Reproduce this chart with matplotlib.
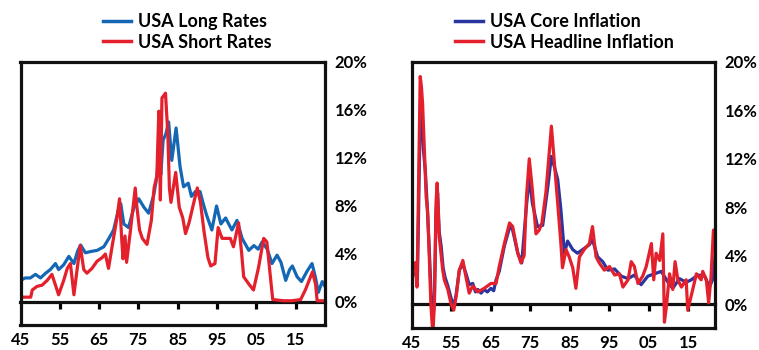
import numpy as np
import matplotlib
matplotlib.use('Agg')
from matplotlib import pyplot as plt
from matplotlib.ticker import FuncFormatter


#(0) Data (year, percent)
long_rates = [(1945.0, 1.8), (1946.2, 2.0), (1947.5, 2.0), (1948.8, 2.3), (1950.1, 2.0), (1951.4, 2.4),
              (1952.6, 2.7), (1953.9, 3.2), (1954.7, 2.7), (1956.0, 3.1), (1957.3, 3.8), (1958.6, 3.2),
              (1959.5, 4.2), (1960.3, 4.75), (1961.5, 4.1), (1962.8, 4.2), (1964.5, 4.3), (1966.2, 4.6),
              (1967.5, 5.3), (1968.7, 6.0), (1970.0, 7.8), (1970.5, 8.2), (1971.3, 6.5), (1972.5, 6.2),
              (1973.8, 7.8), (1975.1, 8.6), (1976.4, 7.9), (1977.6, 7.4), (1978.9, 8.9), (1979.7, 10.4),
              (1980.3, 12.5), (1980.7, 10.6), (1981.3, 13.5), (1982.0, 14.0), (1982.7, 15.0), (1983.5, 11.8),
              (1984.6, 14.5), (1985.6, 11.3), (1986.5, 9.6), (1987.7, 9.9), (1988.5, 8.8), (1989.5, 9.2),
              (1990.7, 9.2), (1991.5, 8.2), (1992.4, 7.2), (1993.7, 6.0), (1994.9, 8.0), (1996.0, 6.5),
              (1997.2, 7.0), (1998.8, 6.0), (2000.1, 6.8), (2001.4, 5.3), (2003.1, 4.3), (2004.4, 4.7),
              (2005.5, 4.4), (2006.5, 5.0), (2007.8, 4.4), (2009.0, 3.2), (2010.3, 3.9), (2011.3, 3.3),
              (2012.5, 1.8), (2013.5, 2.7), (2014.2, 3.0), (2015.4, 2.1), (2016.5, 1.7), (2018.0, 2.6),
              (2019.2, 3.2), (2020.1, 2.0), (2020.8, 0.8), (2021.8, 1.7), (2022.5, 1.3)]

short_rates = [(1945.0, 0.4), (1947.6, 0.4), (1948.0, 1.0), (1949.2, 1.3), (1950.5, 1.4), (1951.8, 1.8),
               (1953.0, 2.3), (1953.5, 1.8), (1954.7, 0.6), (1956.0, 1.8), (1956.9, 2.8), (1957.7, 3.2),
               (1958.6, 0.6), (1959.4, 2.7), (1960.2, 4.7), (1961.1, 2.7), (1961.9, 2.4), (1963.2, 2.8),
               (1964.5, 3.4), (1965.8, 3.7), (1966.6, 4.0), (1967.4, 2.8), (1968.3, 4.6), (1969.6, 7.1),
               (1970.2, 8.6), (1970.8, 5.0), (1971.1, 3.6), (1971.6, 5.5), (1972.0, 3.3), (1973.0, 6.0),
               (1974.2, 9.5), (1974.6, 8.0), (1975.3, 6.0), (1976.0, 5.3), (1977.2, 4.8), (1978.3, 6.8),
               (1979.0, 9.5), (1979.7, 10.5), (1980.2, 15.9), (1980.6, 8.5), (1981.0, 17.0), (1981.9, 17.4),
               (1982.5, 14.0), (1982.9, 9.5), (1983.3, 8.3), (1984.5, 10.8), (1985.4, 7.9), (1986.3, 7.0),
               (1987.0, 5.7), (1987.9, 6.6), (1988.9, 8.0), (1990.0, 9.5), (1990.8, 8.3), (1991.7, 5.9),
               (1992.7, 3.7), (1993.4, 3.0), (1994.5, 3.2), (1995.3, 6.2), (1996.3, 5.3), (1998.4, 5.3),
               (1999.2, 4.6), (2000.5, 6.6), (2001.3, 4.0), (2001.8, 2.1), (2003.1, 1.5), (2004.3, 1.0),
               (2005.6, 2.9), (2006.9, 5.3), (2007.7, 5.0), (2008.6, 2.1), (2009.2, 0.2), (2012.0, 0.1),
               (2014.0, 0.1), (2016.3, 0.2), (2017.5, 1.0), (2019.3, 2.5), (2020.1, 1.5), (2020.5, 0.1),
               (2022.5, 0.1)]

core_infl = [(1946.0, 2.5), (1946.5, 2.0), (1947.2, 15.5), (1947.6, 16.0), (1948.0, 12.8), (1948.5, 11.0),
             (1949.0, 8.0), (1949.5, 4.5), (1950.0, 0.5), (1950.4, -1.5), (1950.8, 0.5), (1951.2, 7.5),
             (1951.6, 9.2), (1952.0, 6.0), (1952.5, 4.8), (1953.0, 3.0), (1953.5, 2.2), (1954.2, 1.5),
             (1955.0, 0.5), (1955.7, -0.2), (1956.3, 0.8), (1957.1, 2.8), (1958.0, 3.3), (1958.8, 2.5),
             (1959.6, 1.6), (1960.5, 1.7), (1961.2, 1.0), (1961.8, 1.2), (1962.6, 0.9), (1963.4, 1.2),
             (1964.2, 1.0), (1965.1, 1.3), (1965.8, 1.1), (1966.4, 2.0), (1967.2, 2.7), (1968.5, 4.8),
             (1969.8, 6.3), (1970.2, 6.5), (1970.6, 6.1), (1971.9, 4.2), (1972.9, 3.4), (1974.0, 7.8),
             (1974.8, 10.5), (1975.6, 8.3), (1976.9, 6.4), (1978.2, 6.5), (1979.5, 9.7), (1980.4, 12.2),
             (1981.1, 11.4), (1982.0, 10.3), (1982.8, 7.8), (1983.7, 4.2), (1984.5, 5.2), (1985.8, 4.5),
             (1987.0, 4.2), (1988.3, 4.5), (1990.0, 4.9), (1990.8, 5.3), (1992.1, 3.9), (1993.4, 3.5),
             (1994.7, 2.8), (1996.4, 2.9), (1998.1, 2.3), (1999.8, 2.1), (2001.4, 2.4), (2003.1, 1.6),
             (2004.8, 2.3), (2006.5, 2.5), (2008.2, 2.7), (2009.9, 1.8), (2011.1, 1.3), (2012.8, 2.1),
             (2014.5, 1.8), (2015.8, 2.0), (2017.5, 2.4), (2019.2, 2.3), (2020.4, 1.4), (2021.3, 2.1),
             (2022.1, 5.0)]

head_infl = [(1945.9, 3.4), (1946.4, 1.4), (1947.2, 18.8), (1947.5, 18.0), (1947.8, 16.6), (1948.3, 12.4),
             (1948.7, 8.9), (1949.1, 7.5), (1949.5, 3.9), (1949.9, 0.0), (1950.4, -2.5), (1950.8, 0.0),
             (1951.2, 8.3), (1951.5, 10.0), (1951.8, 7.5), (1952.0, 5.6), (1952.9, 2.8), (1953.3, 2.0),
             (1954.2, 1.2), (1955.0, 0.0), (1955.7, -0.5), (1956.3, 0.6), (1957.1, 2.8), (1958.0, 3.6),
             (1958.8, 2.2), (1959.6, 0.9), (1960.5, 1.5), (1961.8, 1.0), (1963.4, 1.3), (1965.1, 1.7),
             (1966.4, 1.7), (1967.2, 3.1), (1968.5, 5.0), (1969.8, 6.7), (1970.6, 6.4), (1971.9, 4.2),
             (1972.7, 3.4), (1973.5, 4.0), (1974.1, 8.9), (1974.8, 12.0), (1975.6, 9.4), (1976.5, 5.8),
             (1977.3, 6.1), (1978.0, 6.7), (1979.0, 9.2), (1979.9, 12.7), (1980.4, 14.7), (1981.1, 11.9),
             (1982.0, 8.3), (1982.8, 5.0), (1983.2, 3.0), (1984.1, 4.5), (1984.9, 3.9), (1985.8, 3.0),
             (1986.6, 1.3), (1987.5, 3.9), (1988.7, 4.5), (1990.0, 5.0), (1990.8, 6.4), (1991.7, 3.9),
             (1992.5, 3.4), (1993.8, 2.8), (1995.1, 3.1), (1996.4, 2.4), (1997.6, 2.5), (1998.5, 1.4),
             (1999.8, 2.0), (2000.6, 3.5), (2001.4, 3.1), (2002.3, 1.7), (2003.5, 2.3), (2004.4, 3.1),
             (2005.7, 5.0), (2006.3, 2.0), (2006.9, 4.2), (2007.8, 3.6), (2008.6, 5.8), (2009.0, -1.5),
             (2009.5, -0.2), (2010.3, 2.5), (2011.1, 1.2), (2011.7, 3.5), (2012.4, 2.0), (2013.3, 1.4),
             (2014.5, 2.0), (2014.9, -0.5), (2015.8, 0.7), (2017.1, 2.5), (2018.3, 2.0), (2018.7, 2.7),
             (2019.6, 2.0), (2020.2, 0.1), (2020.8, 2.3), (2021.4, 6.1), (2022.2, 6.2)]

XTICKS  = [1945, 1955, 1965, 1975, 1985, 1995, 2005, 2015]
XLABELS = ['45', '55', '65', '75', '85', '95', '05', '15']
YTICKS  = [0, 4, 8, 12, 16, 20]

BLUE_L = '#1467b5'
BLUE_R = '#2a35a0'
RED    = '#e3202b'


#(1) Plot
plt.rcParams['font.family'] = ['Lato', 'DejaVu Sans']
plt.rcParams['font.weight'] = 'bold'

fig = plt.figure(figsize=(7.59, 3.5), dpi=100)
W, H = 759., 350.
axL = fig.add_axes([20.5/W, 1-325/H, 304.5/W, 263/H])
axR = fig.add_axes([411.5/W, 1-328/H, 303.5/W, 266/H])


def style(ax, xlim, ylim):
	ax.set_xlim(*xlim)
	ax.set_ylim(*ylim)
	for sp in ax.spines.values():
		sp.set_linewidth(2.3)
		sp.set_color('#111111')
	ax.yaxis.tick_right()
	ax.set_yticks(YTICKS)
	ax.yaxis.set_major_formatter(FuncFormatter(lambda v, p: '%d%%' % v))
	ax.set_xticks(XTICKS)
	ax.set_xticklabels(XLABELS)
	ax.tick_params(axis='y', length=0, pad=7, labelsize=12)
	ax.tick_params(axis='x', length=0, pad=5, labelsize=12)
	# zero line with small tick marks
	pos = (0 - ylim[0]) / (ylim[1] - ylim[0])
	sec = ax.secondary_xaxis(pos)
	sec.set_xticks(XTICKS[1:])
	sec.tick_params(axis='x', direction='out', length=5, width=2.3, labelbottom=False, labeltop=False)
	for sp in sec.spines.values():
		sp.set_linewidth(2.3)
		sp.set_color('#111111')


yr, v = np.array(long_rates).T
hL0, = axL.plot(yr, v, color=BLUE_L, lw=2.3, label='USA Long Rates')
yr, v = np.array(short_rates).T
hL1, = axL.plot(yr, v, color=RED, lw=2.3, label='USA Short Rates')
style(axL, (1945, 2022.5), (-1.92, 20))

yr, v = np.array(core_infl).T
hR0, = axR.plot(yr, v, color=BLUE_R, lw=2.3, label='USA Core Inflation')
yr, v = np.array(head_infl).T
hR1, = axR.plot(yr, v, color=RED, lw=2.3, label='USA Headline Inflation')
style(axR, (1945, 2021.8), (-1.98, 20))

for ax, hh, x0 in [(axL, [hL0, hL1], 103), (axR, [hR0, hR1], 455)]:
	leg = ax.legend(hh, [h.get_label() for h in hh], loc='upper left',
	                bbox_to_anchor=(x0/W, 1-13/H), bbox_transform=fig.transFigure,
	                frameon=False, borderpad=0, borderaxespad=0, handlelength=1.55,
	                handletextpad=0.4, labelspacing=0.2, prop=dict(size=13, weight='bold'))
	for ln in leg.get_lines():
		ln.set_linewidth(2.5)

fig.savefig('out.png', dpi=100)
